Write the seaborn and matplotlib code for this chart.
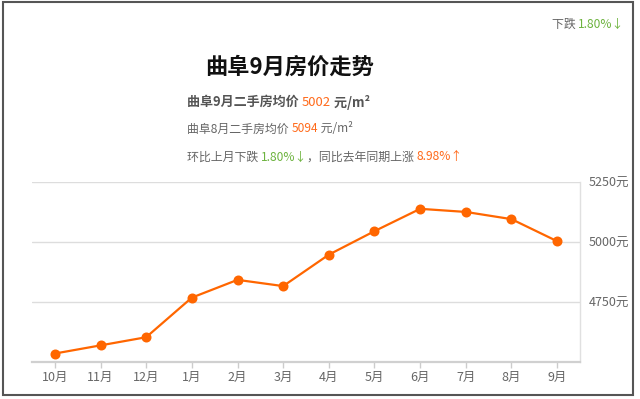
import matplotlib
matplotlib.use("Agg")
import matplotlib.pyplot as plt
import seaborn as sns
from matplotlib.patches import Rectangle

# data
months = ["10月", "11月", "12月", "1月", "2月", "3月", "4月", "5月", "6月", "7月", "8月", "9月"]
prices = [4534, 4568, 4602, 4767, 4841, 4815, 4946, 5044, 5137, 5124, 5094, 5002]
y_ticks = [4750, 5000, 5250]
y_labels = ["4750元", "5000元", "5250元"]

ORANGE = "#ff6a1a"
GREEN = "#6db33f"
GRAY = "#666666"

sns.set_theme(style="white")
plt.rcParams["font.family"] = ["Noto Sans CJK SC", "DejaVu Sans"]

W, H = 640, 399
fig = plt.figure(figsize=(6.4, 3.99), dpi=100)
ax = fig.add_axes([32 / W, 1 - 361.7 / H, (580 - 32) / W, (361.7 - 181.7) / H])

sns.pointplot(x=months, y=prices, order=months, color="#ff6600", ax=ax,
              markers="o", markersize=6, linewidth=1.6)

ax.set_ylim(4500, 5250)
ax.set_xlim(-0.5, 11.5)
ax.yaxis.tick_right()
ax.set_yticks(y_ticks)
ax.set_yticklabels(y_labels, color=GRAY, fontsize=9)
ax.tick_params(axis="y", length=0, pad=6)
ax.tick_params(axis="x", length=4, width=1, color="#cccccc", colors=GRAY, labelsize=9, pad=3, bottom=True)
for lab in ax.get_xticklabels():
    lab.set_color(GRAY)
ax.grid(axis="y", color="#dddddd", linewidth=1)
ax.set_axisbelow(True)
ax.set_xlabel("")
ax.set_ylabel("")
for s in ["left", "top"]:
    ax.spines[s].set_visible(False)
ax.spines["right"].set_color("#e0e0e0")
ax.spines["right"].set_linewidth(1)
ax.spines["bottom"].set_color("#d0d0d0")
ax.spines["bottom"].set_linewidth(1.6)

# outer frame
fig.patches.append(Rectangle((3 / W, 4 / H), 630 / W, 393 / H, transform=fig.transFigure,
                             fill=False, edgecolor="#555555", linewidth=1.5))

renderer = fig.canvas.get_renderer()


def row(x, y, pieces, size=8.6):
    for s, color, weight in pieces:
        t = fig.text(x / W, 1 - y / H, s, color=color, fontsize=size, fontweight=weight,
                     va="center", ha="left")
        x += t.get_window_extent(renderer).width


fig.text(290 / W, 1 - 67 / H, "曲阜9月房价走势", fontsize=16, fontweight="bold",
         color="#111111", ha="center", va="center")

row(187, 102, [("曲阜9月二手房均价 ", "#555555", "bold"), ("5002", ORANGE, "normal"),
               (" 元/m²", "#555555", "bold")], size=9.4)
row(187, 129, [("曲阜8月二手房均价 ", GRAY, "normal"), ("5094", ORANGE, "normal"),
               (" 元/m²", GRAY, "normal")])
row(187, 157, [("环比上月下跌 ", GRAY, "normal"), ("1.80%↓", GREEN, "normal"),
               ("，同比去年同期上涨 ", GRAY, "normal"), ("8.98%↑", ORANGE, "normal")])
row(552, 24, [("下跌 ", GRAY, "normal"), ("1.80%↓", GREEN, "normal")])

fig.savefig("out.png", dpi=100)
